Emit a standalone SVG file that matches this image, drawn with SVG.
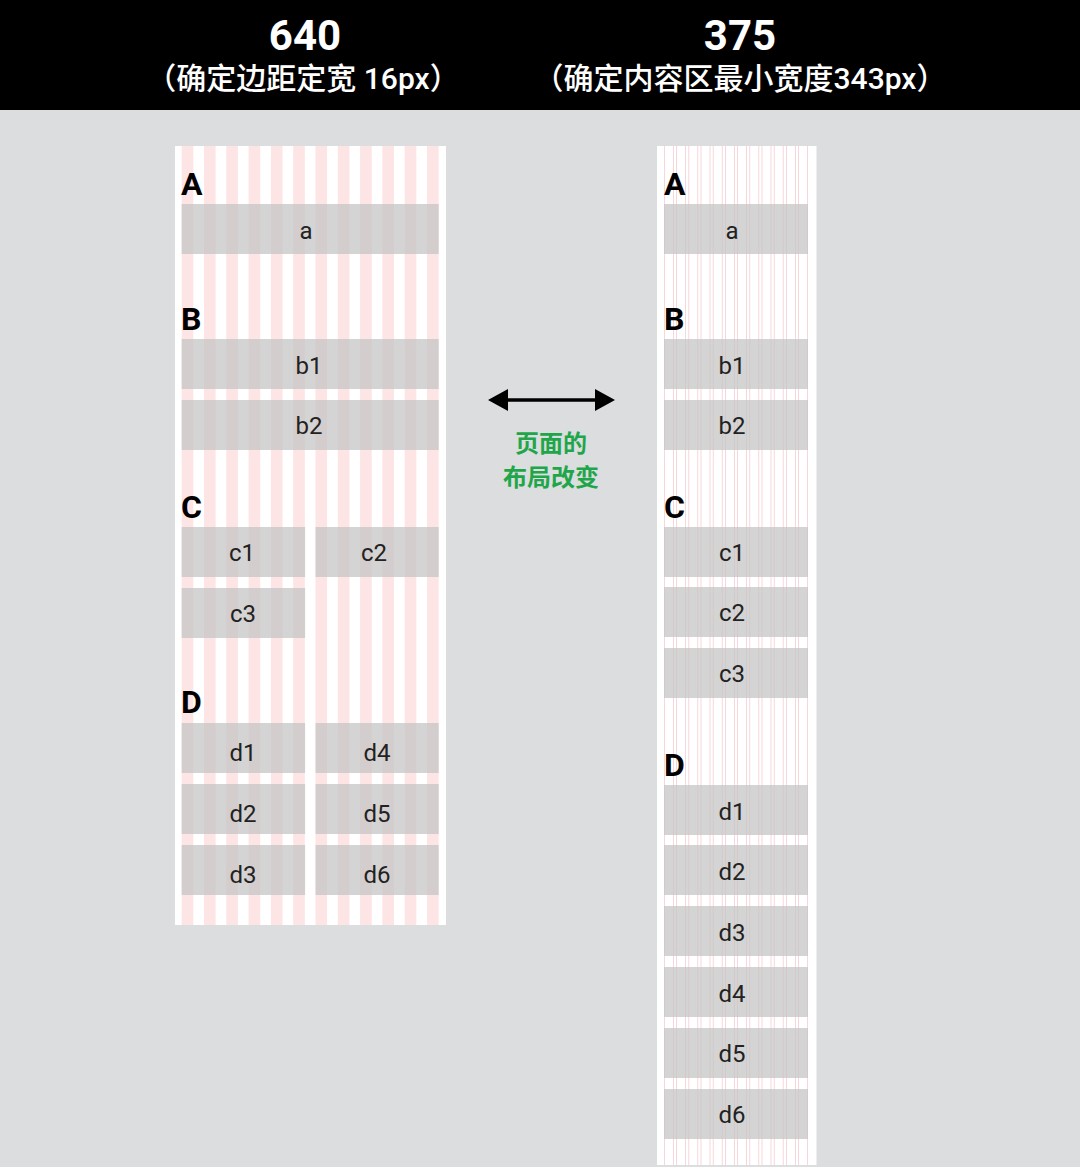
<svg xmlns="http://www.w3.org/2000/svg" width="1080" height="1167" viewBox="0 0 1080 1167">
<defs>
<style>
.hd{font-family:Roboto,"Noto Sans CJK SC",sans-serif;font-weight:700;fill:#fff;text-anchor:middle}
.sub{font-family:Roboto,"Noto Sans CJK SC",sans-serif;font-weight:500;fill:#fff;text-anchor:middle;font-size:30px}
.lbl{font-family:Roboto,"Liberation Sans",sans-serif;font-weight:700;font-size:32px;fill:#000}
.box{fill:#c4c4c4;fill-opacity:0.72}
.bt{font-family:Roboto,"Liberation Sans",sans-serif;font-size:24px;fill:#222;text-anchor:middle}
.stl{fill:#fde4e5}
.str{fill:#f6cdd1}
.gr{font-family:"Noto Sans CJK SC",sans-serif;font-weight:700;font-size:24px;fill:#1fa64a;text-anchor:middle}
</style>
<marker id="ah" viewBox="0 0 20 22" refX="2" refY="11" markerWidth="20" markerHeight="22" markerUnits="userSpaceOnUse" orient="auto-start-reverse">
<path d="M0,0 L20,11 L0,22 Z" fill="#000"/>
</marker>
</defs>
<rect x="0" y="0" width="1080" height="1167" fill="#dcdddf"/>
<g id="header">
<rect x="0" y="0" width="1080" height="110" fill="#000"/>
<text class="hd" x="305" y="50" font-size="42">640</text>
<text class="sub" x="303" y="89">（确定边距定宽 16px）</text>
<text class="hd" x="740" y="50" font-size="42">375</text>
<text class="sub" x="740" y="89">（确定内容区最小宽度343px）</text>
</g>
<g id="panel-640">
<rect x="175" y="146" width="271" height="779" fill="#fff"/>
<g id="grid-640">
<rect class="stl" x="181.7" y="146" width="11.6" height="779"/>
<rect class="stl" x="204.0" y="146" width="11.6" height="779"/>
<rect class="stl" x="226.3" y="146" width="11.6" height="779"/>
<rect class="stl" x="248.6" y="146" width="11.6" height="779"/>
<rect class="stl" x="270.9" y="146" width="11.6" height="779"/>
<rect class="stl" x="293.2" y="146" width="11.6" height="779"/>
<rect class="stl" x="315.5" y="146" width="11.6" height="779"/>
<rect class="stl" x="337.8" y="146" width="11.6" height="779"/>
<rect class="stl" x="360.1" y="146" width="11.6" height="779"/>
<rect class="stl" x="382.4" y="146" width="11.6" height="779"/>
<rect class="stl" x="404.7" y="146" width="11.6" height="779"/>
<rect class="stl" x="427.0" y="146" width="11.6" height="779"/>
</g>
<text class="lbl" x="181" y="195">A</text>
<text class="lbl" x="181" y="330">B</text>
<text class="lbl" x="181" y="518">C</text>
<text class="lbl" x="181" y="713">D</text>
</g>
<g id="L-a"><rect class="box" x="181.7" y="204" width="257" height="50"/><text class="bt" x="306" y="239">a</text></g>
<g id="L-b1"><rect class="box" x="181.7" y="339" width="257" height="50"/><text class="bt" x="309" y="374">b1</text></g>
<g id="L-b2"><rect class="box" x="181.7" y="400" width="257" height="50"/><text class="bt" x="309" y="434">b2</text></g>
<g id="L-c1"><rect class="box" x="181.7" y="527" width="123.4" height="50"/><text class="bt" x="242" y="561">c1</text></g>
<g id="L-c2"><rect class="box" x="315.5" y="527" width="123.2" height="50"/><text class="bt" x="374" y="561">c2</text></g>
<g id="L-c3"><rect class="box" x="181.7" y="588" width="123.4" height="50"/><text class="bt" x="243" y="622">c3</text></g>
<g id="L-d1"><rect class="box" x="181.7" y="723" width="123.4" height="50"/><text class="bt" x="243" y="761">d1</text></g>
<g id="L-d4"><rect class="box" x="315.5" y="723" width="123.2" height="50"/><text class="bt" x="377" y="761">d4</text></g>
<g id="L-d2"><rect class="box" x="181.7" y="784" width="123.4" height="50"/><text class="bt" x="243" y="822">d2</text></g>
<g id="L-d5"><rect class="box" x="315.5" y="784" width="123.2" height="50"/><text class="bt" x="377" y="822">d5</text></g>
<g id="L-d3"><rect class="box" x="181.7" y="845" width="123.4" height="50"/><text class="bt" x="243" y="883">d3</text></g>
<g id="L-d6"><rect class="box" x="315.5" y="845" width="123.2" height="50"/><text class="bt" x="377" y="883">d6</text></g>
<g id="panel-375">
<rect x="657" y="146" width="159.5" height="1019" fill="#fff"/>
<g id="grid-375">
<rect class="str" x="664.0" y="146" width="0.8" height="1019"/><rect class="str" x="673.0" y="146" width="0.8" height="1019"/>
<rect class="str" x="676.2" y="146" width="0.8" height="1019"/><rect class="str" x="685.2" y="146" width="0.8" height="1019"/>
<rect class="str" x="688.4" y="146" width="0.8" height="1019"/><rect class="str" x="697.4" y="146" width="0.8" height="1019"/>
<rect class="str" x="700.6" y="146" width="0.8" height="1019"/><rect class="str" x="709.6" y="146" width="0.8" height="1019"/>
<rect class="str" x="712.8" y="146" width="0.8" height="1019"/><rect class="str" x="721.8" y="146" width="0.8" height="1019"/>
<rect class="str" x="725.0" y="146" width="0.8" height="1019"/><rect class="str" x="734.0" y="146" width="0.8" height="1019"/>
<rect class="str" x="737.2" y="146" width="0.8" height="1019"/><rect class="str" x="746.2" y="146" width="0.8" height="1019"/>
<rect class="str" x="749.4" y="146" width="0.8" height="1019"/><rect class="str" x="758.4" y="146" width="0.8" height="1019"/>
<rect class="str" x="761.6" y="146" width="0.8" height="1019"/><rect class="str" x="770.6" y="146" width="0.8" height="1019"/>
<rect class="str" x="773.8" y="146" width="0.8" height="1019"/><rect class="str" x="782.8" y="146" width="0.8" height="1019"/>
<rect class="str" x="786.0" y="146" width="0.8" height="1019"/><rect class="str" x="795.0" y="146" width="0.8" height="1019"/>
<rect class="str" x="798.2" y="146" width="0.8" height="1019"/><rect class="str" x="807.2" y="146" width="0.8" height="1019"/>
</g>
<text class="lbl" x="664" y="195">A</text>
<text class="lbl" x="664" y="330">B</text>
<text class="lbl" x="664" y="518">C</text>
<text class="lbl" x="664" y="776">D</text>
</g>
<g id="R-a"><rect class="box" x="664" y="204" width="144" height="50"/><text class="bt" x="732" y="239">a</text></g>
<g id="R-b1"><rect class="box" x="664" y="339" width="144" height="50"/><text class="bt" x="732" y="374">b1</text></g>
<g id="R-b2"><rect class="box" x="664" y="400" width="144" height="50"/><text class="bt" x="732" y="434">b2</text></g>
<g id="R-c1"><rect class="box" x="664" y="527" width="144" height="50"/><text class="bt" x="732" y="561">c1</text></g>
<g id="R-c2"><rect class="box" x="664" y="587" width="144" height="50"/><text class="bt" x="732" y="621">c2</text></g>
<g id="R-c3"><rect class="box" x="664" y="648" width="144" height="50"/><text class="bt" x="732" y="682">c3</text></g>
<g id="R-d1"><rect class="box" x="664" y="785" width="144" height="50"/><text class="bt" x="732" y="820">d1</text></g>
<g id="R-d2"><rect class="box" x="664" y="845" width="144" height="50"/><text class="bt" x="732" y="880">d2</text></g>
<g id="R-d3"><rect class="box" x="664" y="906" width="144" height="50"/><text class="bt" x="732" y="941">d3</text></g>
<g id="R-d4"><rect class="box" x="664" y="967" width="144" height="50"/><text class="bt" x="732" y="1002">d4</text></g>
<g id="R-d5"><rect class="box" x="664" y="1028" width="144" height="50"/><text class="bt" x="732" y="1062">d5</text></g>
<g id="R-d6"><rect class="box" x="664" y="1089" width="144" height="50"/><text class="bt" x="732" y="1123">d6</text></g>
<g id="connectors">
<line x1="506" y1="400" x2="597" y2="400" stroke="#000" stroke-width="3.5" marker-start="url(#ah)" marker-end="url(#ah)"/>
</g>
<g id="label-change">
<text class="gr" x="551" y="452">页面的</text>
<text class="gr" x="551" y="486">布局改变</text>
</g>
</svg>
